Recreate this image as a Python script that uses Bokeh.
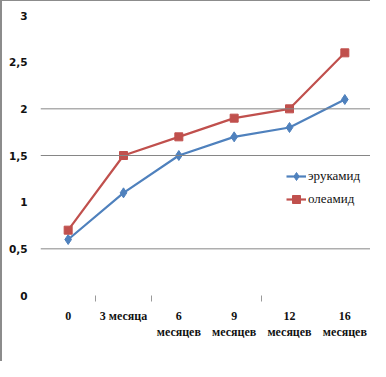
from bokeh.plotting import figure
from bokeh.models import FixedTicker, Range1d, Legend, LegendItem, Span
from bokeh.embed import file_html
from bokeh.resources import INLINE

categories = ["0", "3 месяца", "6\nмесяцев", "9\nмесяцев", "12\nмесяцев", "16\nмесяцев"]
erukamid = [0.6, 1.1, 1.5, 1.7, 1.8, 2.1]
oleamid = [0.7, 1.5, 1.7, 1.9, 2.0, 2.6]
y_ticks = [0, 0.5, 1, 1.5, 2, 2.5, 3]
y_tick_labels = ["0", "0,5", "1", "1,5", "2", "2,5", "3"]
grid_values = [0.5, 1.5, 2]
boundary_ticks = [0.5, 1.5, 3.5]

xs = list(range(len(categories)))

p = figure(width=370, height=361, output_backend="svg", toolbar_location=None,
           x_range=Range1d(-0.5, len(categories) - 0.5), y_range=Range1d(0, 3),
           min_border_left=38, min_border_right=0, min_border_top=14, min_border_bottom=67)
p.outline_line_color = None
p.background_fill_color = "white"
p.border_fill_color = "white"
p.xgrid.visible = False
p.ygrid.visible = False
p.styles = {"border-left": "2px solid #8c8c8c", "border-top": "1px solid #8c8c8c"}

for g in grid_values:
    p.add_layout(Span(location=g, dimension="width", line_color="#868686", line_width=1))

# y axis
p.yaxis.ticker = FixedTicker(ticks=y_ticks)
p.yaxis.major_label_overrides = {t: l for t, l in zip(y_ticks, y_tick_labels)}
p.yaxis.axis_line_color = None
p.yaxis.major_tick_line_color = None
p.yaxis.minor_tick_line_color = None
p.yaxis.major_label_standoff = 7
p.yaxis.major_label_text_font = "DejaVu Sans"
p.yaxis.major_label_text_font_style = "bold"
p.yaxis.major_label_text_font_size = "10.5px"
p.yaxis.major_label_text_color = "#111111"

# x axis
p.xaxis.ticker = FixedTicker(ticks=xs, minor_ticks=boundary_ticks)
p.xaxis.major_label_overrides = {i: c for i, c in zip(xs, categories)}
p.xaxis.axis_line_color = None
p.xaxis.major_tick_line_color = None
p.xaxis.major_tick_out = 0
p.xaxis.minor_tick_line_color = "#9a9a9a"
p.xaxis.minor_tick_in = 0
p.xaxis.minor_tick_out = 6
p.xaxis.major_label_standoff = 7
p.xaxis.major_label_text_font = "Liberation Serif"
p.xaxis.major_label_text_font_style = "bold"
p.xaxis.major_label_text_font_size = "12px"
p.xaxis.major_label_text_color = "#111111"

blue = "#4F81BD"
red = "#C0504D"
l1 = p.line(xs, erukamid, line_color=blue, line_width=2.2)
m1 = p.scatter(xs, erukamid, marker="diamond", size=10, fill_color=blue, line_color=blue)
l2 = p.line(xs, oleamid, line_color=red, line_width=2.2)
m2 = p.scatter(xs, oleamid, marker="square", size=8, fill_color=red, line_color=red)

legend = Legend(items=[LegendItem(label="эрукамид", renderers=[l1, m1]),
                       LegendItem(label="олеамид", renderers=[l2, m2])],
                location=(246, 86))
legend.background_fill_alpha = 0
legend.border_line_color = None
legend.padding = 0
legend.margin = 0
legend.spacing = 3
legend.glyph_width = 20
legend.glyph_height = 20
legend.label_height = 20
legend.label_standoff = 2
legend.label_text_font = "Liberation Serif"
legend.label_text_font_size = "13px"
legend.label_text_color = "#111111"
p.add_layout(legend)

open("out.html", "w").write(file_html(p, INLINE))
